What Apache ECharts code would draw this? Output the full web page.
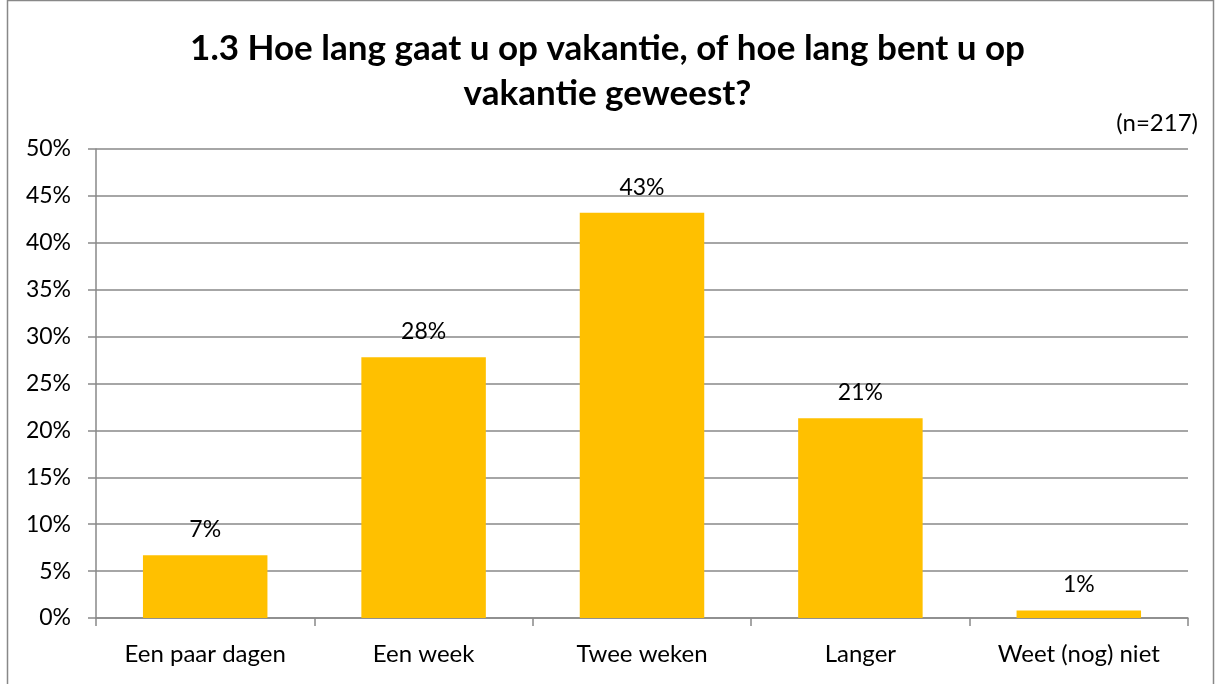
<!DOCTYPE html>
<html>
<head>
<meta charset="utf-8">
<script src="https://cdn.jsdelivr.net/npm/echarts@6/dist/echarts.min.js"></script>
<style>
  html, body { margin: 0; padding: 0; background: #fff; }
  #chart { width: 1215px; height: 684px; }
</style>
</head>
<body>
<div id="chart"></div>
<script>
// categories and values (percent)
const categories = ['Een paar dagen', 'Een week', 'Twee weken', 'Langer', 'Weet (nog) niet']
const values = [6.7, 27.8, 43.2, 21.3, 0.8]
const yTicks = { min: 0, max: 50, interval: 5 }

const font = 'Lato, "Open Sans", sans-serif'

const chart = echarts.init(document.getElementById('chart'))
chart.setOption({
  backgroundColor: '#fff',
  animation: false,
  graphic: [{
    type: 'rect',
    shape: { x: 7.5, y: 0.5, width: 1206, height: 690 },
    style: { fill: 'none', stroke: '#888', lineWidth: 1.5 },
    silent: true
  }, {
    type: 'text',
    right: 17,
    top: 111,
    style: { text: '(n=217)', font: '24px ' + font, fill: '#000' }
  }],
  title: {
    text: '1.3 Hoe lang gaat u op vakantie, of hoe lang bent u op\nvakantie geweest?',
    left: 'center',
    top: 21,
    textStyle: {
      fontFamily: font,
      fontWeight: 'bold',
      fontSize: 35,
      lineHeight: 45,
      color: '#000'
    }
  },
  grid: {
    left: 96,
    right: 27,
    top: 149,
    bottom: 66
  },
  xAxis: {
    type: 'category',
    data: categories,
    axisLine: { lineStyle: { color: '#898989', width: 1.5 } },
    axisTick: { show: true, length: 8, lineStyle: { color: '#898989', width: 1.5 } },
    axisLabel: { fontFamily: font, fontSize: 24, color: '#000', margin: 24 }
  },
  yAxis: {
    type: 'value',
    min: yTicks.min,
    max: yTicks.max,
    interval: yTicks.interval,
    axisLine: { show: true, lineStyle: { color: '#898989', width: 1.5 } },
    axisTick: { show: true, length: 8, lineStyle: { color: '#898989', width: 1.5 } },
    axisLabel: {
      fontFamily: font, fontSize: 23, color: '#000', margin: 25,
      formatter: v => v + '%'
    },
    splitLine: { lineStyle: { color: '#898989', width: 1.5 } }
  },
  series: [{
    type: 'bar',
    data: values,
    barWidth: '57%',
    itemStyle: { color: '#ffc000' },
    label: {
      show: true,
      position: 'top',
      distance: 14,
      fontFamily: font,
      fontSize: 23,
      color: '#000',
      formatter: p => Math.round(p.value) + '%'
    }
  }]
})
</script>
</body>
</html>
